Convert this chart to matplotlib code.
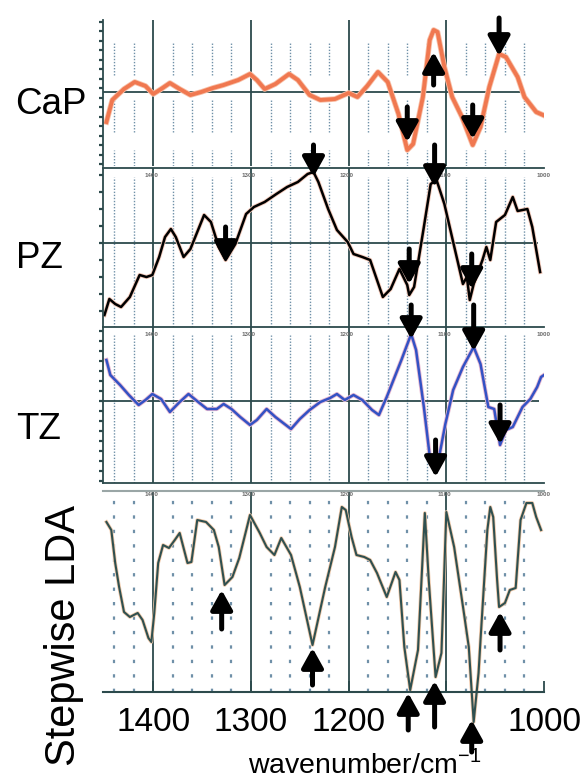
import numpy as np
import matplotlib.pyplot as plt
import matplotlib.patheffects as pe

plt.rcParams['font.family'] = ['Liberation Sans', 'DejaVu Sans']

# ===== spectra (wavenumber, relative intensity) =====
cap_wn = [1448, 1442, 1430, 1419, 1408, 1400, 1392, 1383, 1373, 1362, 1351, 1339,
          1328, 1313, 1301, 1294, 1286, 1275, 1261, 1252, 1240, 1229, 1214, 1200,
          1191, 1181, 1170, 1160, 1149, 1140, 1134, 1124, 1117, 1113, 1109, 1102,
          1094, 1084, 1073, 1065, 1056, 1046, 1039, 1027, 1020, 1008, 1001]
cap_val = [-30, -8, 3, 10, 6, -2, 3, 9, 3, -3, 0, 4,
           7, 12, 18, 12, 3, 8, 18, 12, -3, -8, -7, -1,
           -5, 6, 20, 10, -22, -58, -52, -5, 52, 62, 60, 25,
           -5, -25, -53, -35, 5, 38, 35, 15, -5, -20, -23]

pz_wn = [1450, 1445, 1439, 1433, 1424, 1414, 1407, 1401, 1394, 1388, 1382, 1377,
         1369, 1362, 1348, 1341, 1333, 1326, 1316, 1305, 1297, 1286, 1274, 1263,
         1252, 1242, 1236, 1231, 1221, 1212, 1201, 1195, 1186, 1178, 1165, 1157,
         1148, 1140, 1138, 1133, 1123, 1116, 1110, 1102, 1093, 1083, 1079, 1076,
         1072, 1063, 1059, 1055, 1049, 1040, 1032, 1027, 1017, 1012, 1004]
pz_val = [-72, -56, -61, -64, -54, -32, -34, -32, -14, 6, 14, 6,
          -14, -6, 28, 21, -4, -17, -1, 29, 36, 41, 49, 56,
          61, 69, 71, 61, 34, 13, 1, -11, -14, -17, -54, -46,
          -26, -42, -52, -44, 16, 59, 63, 39, 1, -41, -34, -57,
          -41, -17, -4, -17, 21, 28, 46, 32, 34, 16, -29]

tz_wn = [1448, 1444, 1434, 1425, 1415, 1408, 1401, 1392, 1383, 1373, 1364, 1354,
         1345, 1335, 1328, 1320, 1311, 1301, 1294, 1284, 1275, 1259, 1250, 1240,
         1229, 1219, 1212, 1204, 1195, 1186, 1176, 1169, 1161, 1146, 1136, 1131,
         1123, 1116, 1108, 1101, 1093, 1083, 1072, 1065, 1057, 1051, 1045, 1039,
         1032, 1022, 1014, 1007, 1003, 1000]
tz_val = [41, 26, 16, 6, -4, 1, 7, 2, -11, -1, 7, -1,
          -8, -8, -3, -8, -16, -24, -19, -8, -16, -28, -18, -9,
          -1, 3, 7, 1, 6, 1, -9, -14, 4, 41, 67, 51,
          -6, -63, -59, -23, 11, 34, 54, 37, -6, -8, -44, -29,
          -26, -6, 2, 14, 24, 26]

lda_wn = [1448, 1443, 1439, 1435, 1430, 1424, 1416, 1411, 1405, 1402, 1399, 1395,
          1390, 1384, 1378, 1373, 1365, 1361, 1355, 1346, 1338, 1333, 1327, 1319,
          1312, 1301, 1291, 1284, 1276, 1269, 1259, 1250, 1237, 1224, 1214, 1207,
          1203, 1197, 1192, 1184, 1178, 1171, 1161, 1152, 1148, 1143, 1137, 1129,
          1122, 1118, 1111, 1105, 1100, 1092, 1082, 1077, 1072, 1067, 1065, 1058,
          1055, 1052, 1048, 1046, 1040, 1035, 1029, 1024, 1018, 1012, 1008, 1003]
lda_val = [170, 162, 129, 105, 80, 75, 79, 72, 54, 50, 79, 129,
           147, 144, 152, 159, 129, 130, 172, 170, 162, 145, 107, 115,
           134, 177, 159, 145, 137, 154, 137, 105, 47, 105, 145, 185,
           182, 155, 137, 135, 132, 119, 95, 120, 112, 45, 2, 42,
           179, 112, 15, 39, 180, 145, 79, 45, -30, 19, 52, 162,
           185, 175, 112, 85, 89, 102, 104, 172, 189, 189, 175, 162]

# arrows: (wavenumber, tail, tip)
cap_arrows = [(1140, -15, -50), (1113, 7, 40), (1073, -13, -47), (1046, 74, 36)]
pz_arrows = [(1236, 98, 66), (1112, 98, 56), (1326, 16, -19), (1138, -6, -41), (1074, -11, -46)]
tz_arrows = [(1136, 96, 62), (1072, 96, 50), (1111, -39, -76), (1045, -4, -43)]
lda_arrows = [(1330, 63, 102), (1237, 7, 44), (1045, 42, 80),
              (1139, -38, -1), (1112, -35, 11), (1074, -60, -28)]

major_wn = [1400, 1300, 1200, 1100]
small_labels = ['1400', '1300', '1200', '1100', '1000']

W, H = 582, 780
fig = plt.figure(figsize=(W / 100, H / 100), dpi=100)
fig.patch.set_facecolor('white')

grid_col = '#2c4a4c'
dot_col = '#6f90a8'
x0, x1 = 103 / W, 544 / W
XL = (1451.5, 1000)


def panel(ytop, ybot, ylim):
    ax = fig.add_axes([x0, 1 - ybot / H, x1 - x0, (ybot - ytop) / H])
    ax.set_facecolor('none')
    ax.set_xlim(*XL)
    ax.set_ylim(*ylim)
    ax.set_xticks([])
    for s in ax.spines.values():
        s.set_visible(False)
    return ax


def show_spines(ax, names, color=grid_col, lw=1.3):
    for s in names:
        ax.spines[s].set_visible(True)
        ax.spines[s].set_color(color)
        ax.spines[s].set_linewidth(lw)


def arrows(ax, items):
    for wn, tail, tip in items:
        ax.annotate('', xy=(wn, tip), xytext=(wn, tail), annotation_clip=False,
                    arrowprops=dict(arrowstyle='-|>,head_width=0.5,head_length=0.9',
                                    lw=3.6, color='black', shrinkA=0, shrinkB=0,
                                    mutation_scale=13))


def tiny_labels(ax, y):
    for w, t in zip([1402, 1302, 1202, 1102, 1000], small_labels):
        ax.text(w, y, t, fontsize=4.5, color='#6a6a6a', ha='center', va='center',
                fontweight='bold', clip_on=False)


dotted_wn = [w for w in range(1440, 1000, -20) if w % 100 != 0]

# ---- CaP ----
ax1 = panel(20, 166, (-74, 72))
show_spines(ax1, ['left'])
ax1.set_yticks(np.arange(-72, 72, 9.5))
ax1.set_yticklabels([])
ax1.tick_params(axis='y', direction='out', length=3, width=1.6, color=grid_col)
for lo, hi in [(17, 50), (-40, -8), (-74, -58)]:
    ax1.vlines(dotted_wn, lo, hi, colors=dot_col, linestyles=(0, (1, 1.2)), lw=1)
ax1.vlines(major_wn, -74, 72, colors=grid_col, lw=1.3)
ax1.hlines(0, XL[0], 1024, colors=grid_col, lw=1.3)
ax1.plot(cap_wn, cap_val, color='#f07850', lw=2.8,
         path_effects=[pe.Stroke(linewidth=4, foreground='#f8c0a8'), pe.Normal()])
arrows(ax1, cap_arrows)

# ---- PZ ----
ax2 = panel(168, 327, (-84, 75))
show_spines(ax2, ['left', 'top'])
ax2.set_yticks(np.arange(-68, 75, 17))
ax2.set_yticklabels([])
ax2.tick_params(axis='y', direction='out', length=3, width=1.6, color=grid_col)
ax2.vlines(dotted_wn, -84, 66, colors=dot_col, linestyles=(0, (1, 1.2)), lw=1)
ax2.vlines(major_wn, -84, 75, colors=grid_col, lw=1.3)
ax2.hlines(0, XL[0], 1006, colors=grid_col, lw=1.3)
tiny_labels(ax2, 68)
ax2.plot(pz_wn, pz_val, color='black', lw=1.8,
         path_effects=[pe.Stroke(linewidth=3, foreground='#f3c8b8'), pe.Normal()])
arrows(ax2, pz_arrows)

# ---- TZ ----
ax3 = panel(327, 483, (-82, 74))
show_spines(ax3, ['left', 'top', 'bottom'])
ax3.set_yticks(np.arange(-80, 74, 10))
ax3.set_yticklabels([])
ax3.tick_params(axis='y', direction='out', length=3, width=1.6, color=grid_col)
ax3.vlines(dotted_wn, -82, 66, colors=dot_col, linestyles=(0, (1, 1.2)), lw=1)
ax3.vlines(major_wn, -82, 74, colors=grid_col, lw=1.3)
ax3.hlines(0, XL[0], 1005, colors=grid_col, lw=1.3)
tiny_labels(ax3, 67)
ax3.plot(tz_wn, tz_val, color='#3352c4', lw=1.8,
         path_effects=[pe.Stroke(linewidth=3, foreground='#e8b8d0'), pe.Normal()])
arrows(ax3, tz_arrows)

# ---- Stepwise LDA ----
ax4 = panel(491, 692, (0, 201))
show_spines(ax4, ['top'], color='#9aa6a6', lw=1.5)
show_spines(ax4, ['bottom'], lw=1.5)
ax4.vlines(dotted_wn, 0, 196, colors=dot_col, linestyles=(0, (1.5, 5)), lw=1.6)
ax4.vlines(major_wn, 0, 201, colors=grid_col, lw=1.3)
tiny_labels(ax4, 197)
ax4.plot(lda_wn, lda_val, color='#2f5050', lw=1.5, clip_on=False,
         path_effects=[pe.Stroke(linewidth=2.6, foreground='#f0c8a8'), pe.Normal()])
ax4.set_yticks([])
ax4.set_xticks([1400, 1300, 1200, 1100, 1000])
ax4.set_xticklabels(['1400', '1300', '1200', '', '1000'], fontsize=24)
ax4.tick_params(axis='x', direction='in', length=8, width=1.3, color=grid_col, pad=11)
arrows(ax4, lda_arrows)

# ---- labels ----
fig.text(15 / W, 1 - 105 / H, 'CaP', fontsize=26.5, ha='left', va='center')
fig.text(16 / W, 1 - 259 / H, 'PZ', fontsize=26.5, ha='left', va='center')
fig.text(16 / W, 1 - 429 / H, 'TZ', fontsize=26.5, ha='left', va='center')
fig.text(64 / W, 1 - 636 / H, 'Stepwise LDA', fontsize=30, rotation=90,
         ha='center', va='center')
fig.text(365 / W, 1 - 764 / H, 'wavenumber/cm$^{\\mathregular{-1}}$', fontsize=20.5,
         ha='center', va='center')

fig.savefig('out.png', dpi=100)
